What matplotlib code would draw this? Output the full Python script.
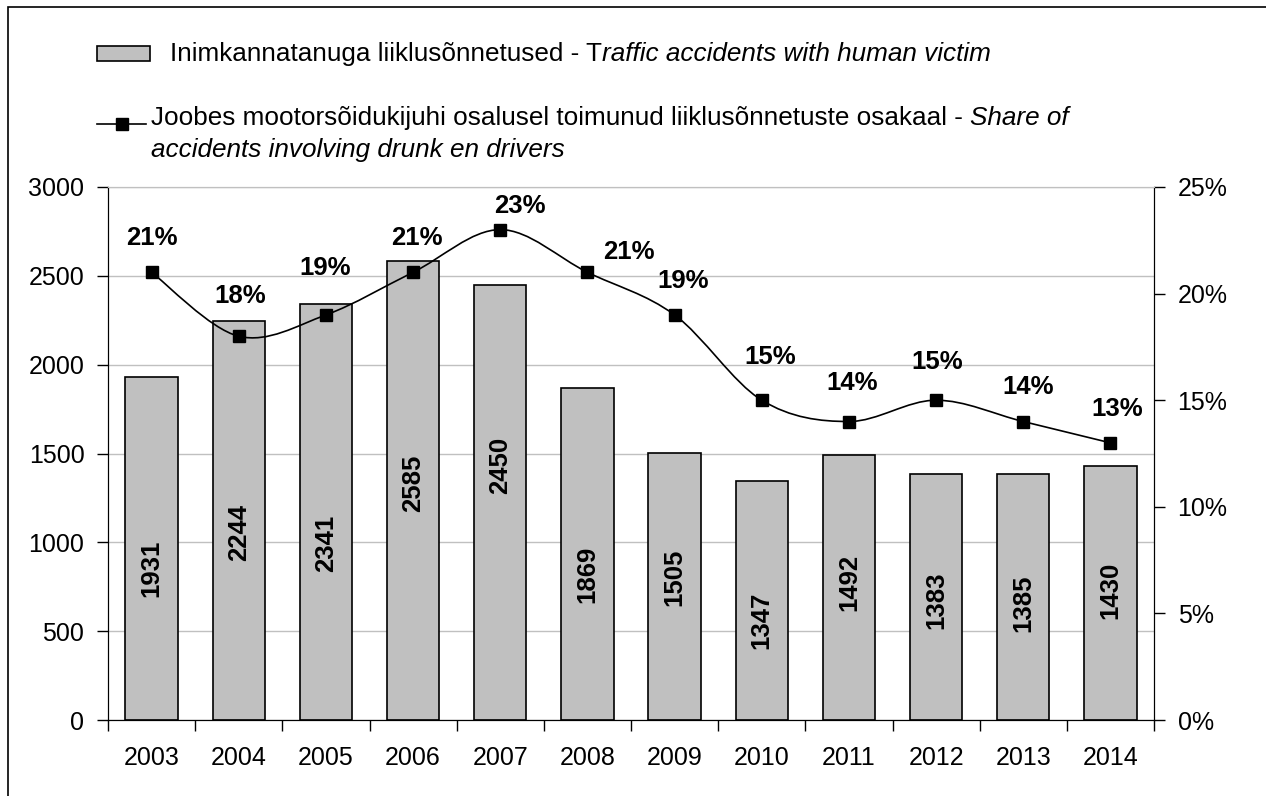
import numpy as np
import matplotlib.pyplot as plt
from matplotlib.path import Path
from matplotlib.patches import PathPatch, Rectangle
from matplotlib.lines import Line2D
from matplotlib.ticker import PercentFormatter

plt.rcParams['font.family'] = ['Liberation Sans', 'DejaVu Sans']

years = ['2003', '2004', '2005', '2006', '2007', '2008',
         '2009', '2010', '2011', '2012', '2013', '2014']
accidents = [1931, 2244, 2341, 2585, 2450, 1869, 1505, 1347, 1492, 1383, 1385, 1430]
drunk_share = [21, 18, 19, 21, 23, 21, 19, 15, 14, 15, 14, 13]

# where the value labels sit inside the bars (hand placed in the original)
label_y = [855, 1058, 996, 1334, 1430, 822, 805, 563, 777, 675, 658, 732]
# offsets (px) of the percent labels from their markers
pct_offset = [(0, 34), (1, 40), (-1, 47), (4, 34), (20, 24), (41, 20),
              (9, 34), (8, 43), (3, 39), (1, 38), (5, 35), (7, 34)]

W, H = 1266, 796
DPI = 100


def fx(px):
    return px / W


def fy(py):
    return 1 - py / H


fig = plt.figure(figsize=(W / DPI, H / DPI), dpi=DPI)
ax = fig.add_axes([fx(108), fy(720), fx(1154) - fx(108), fy(187) - fy(720)])
ax2 = ax.twinx()

x = np.arange(len(years))
ax.bar(x, accidents, width=0.6, color='#c0c0c0', edgecolor='black', linewidth=1.2, zorder=2)
for xi, v, ly in zip(x, accidents, label_y):
    ax.text(xi, ly, str(v), rotation=90, ha='center', va='center',
            fontsize=18.5, fontweight='bold', zorder=3)

ax.set_xlim(-0.5, len(years) - 0.5)
ax.set_ylim(0, 3000)
ax.set_yticks(np.arange(0, 3001, 500))
ax.yaxis.grid(True, color='#c0c0c0', linewidth=1, zorder=0)
ax.set_axisbelow(True)
ax.set_xticks(x)
ax.set_xticklabels(years)
ax.set_xticks(np.arange(-0.5, len(years)), minor=True)
ax.tick_params(axis='x', which='major', length=0, pad=19, labelsize=18)
ax.tick_params(axis='x', which='minor', length=8, width=1, direction='out')
ax.tick_params(axis='y', length=8, width=1, direction='out', pad=9, labelsize=18)

# smoothed line like excel: catmull-rom as bezier segments
pts = np.column_stack([x, drunk_share]).astype(float)
ext = np.vstack([pts[0], pts, pts[-1]])
verts = [tuple(pts[0])]
codes = [Path.MOVETO]
for i in range(len(pts) - 1):
    p0, p1, p2, p3 = ext[i], ext[i + 1], ext[i + 2], ext[i + 3]
    c1 = p1 + (p2 - p0) / 6
    c2 = p2 - (p3 - p1) / 6
    verts += [tuple(c1), tuple(c2), tuple(p2)]
    codes += [Path.CURVE4] * 3
ax2.add_patch(PathPatch(Path(verts, codes), fill=False, edgecolor='black', linewidth=1.2, zorder=3))
ax2.plot(x, drunk_share, linestyle='none', marker='s', markersize=8, color='black', zorder=4)
for xi, v, (dx, dy) in zip(x, drunk_share, pct_offset):
    ax2.annotate(f'{v}%', (xi, v), xytext=(dx * 0.72, dy * 0.72), textcoords='offset points',
                 ha='center', va='center', fontsize=18.5, fontweight='bold')

ax2.set_ylim(0, 25)
ax2.set_yticks(np.arange(0, 26, 5))
ax2.yaxis.set_major_formatter(PercentFormatter(decimals=0))
ax2.tick_params(axis='y', length=8, width=1, direction='out', pad=9, labelsize=18)

for a in (ax, ax2):
    a.spines['top'].set_color('#c0c0c0')
    a.spines['left'].set_color('black')
    a.spines['right'].set_color('black')
    a.spines['bottom'].set_color('black')

# legend drawn by hand
fig.add_artist(Rectangle((fx(97), fy(61)), fx(150) - fx(97), fy(46) - fy(61),
                         transform=fig.transFigure, facecolor='#c0c0c0', edgecolor='black', linewidth=1.2))
t1 = fig.text(fx(170), fy(66), 'Inimkannatanuga liiklusõnnetused - T', fontsize=18.8, va='bottom')
ax.annotate('raffic accidents with human victim', xy=(1, 0), xycoords=t1,
            va='bottom', ha='left', fontsize=18.8, style='italic', annotation_clip=False)

fig.add_artist(Line2D([fx(97), fx(146)], [fy(124), fy(124)], transform=fig.transFigure,
                      color='black', linewidth=1.2))
fig.add_artist(Line2D([fx(122)], [fy(124)], transform=fig.transFigure, marker='s',
                      markersize=8, color='black'))
t2 = fig.text(fx(151), fy(130), 'Joobes mootorsõidukijuhi osalusel toimunud liiklusõnnetuste osakaal - ',
              fontsize=18.8, va='bottom')
ax.annotate('Share of', xy=(1, 0), xycoords=t2, va='bottom', ha='left',
            fontsize=18.8, style='italic', annotation_clip=False)
fig.text(fx(151), fy(162), 'accidents involving drunk en drivers', fontsize=18.8, va='bottom', style='italic')

# outer frame, runs off the right and bottom edges
fig.add_artist(Rectangle((fx(8), -0.1), 1.2, fy(7) + 0.1, transform=fig.transFigure,
                         fill=False, edgecolor='black', linewidth=1.2))

plt.savefig('out.png', dpi=DPI)
